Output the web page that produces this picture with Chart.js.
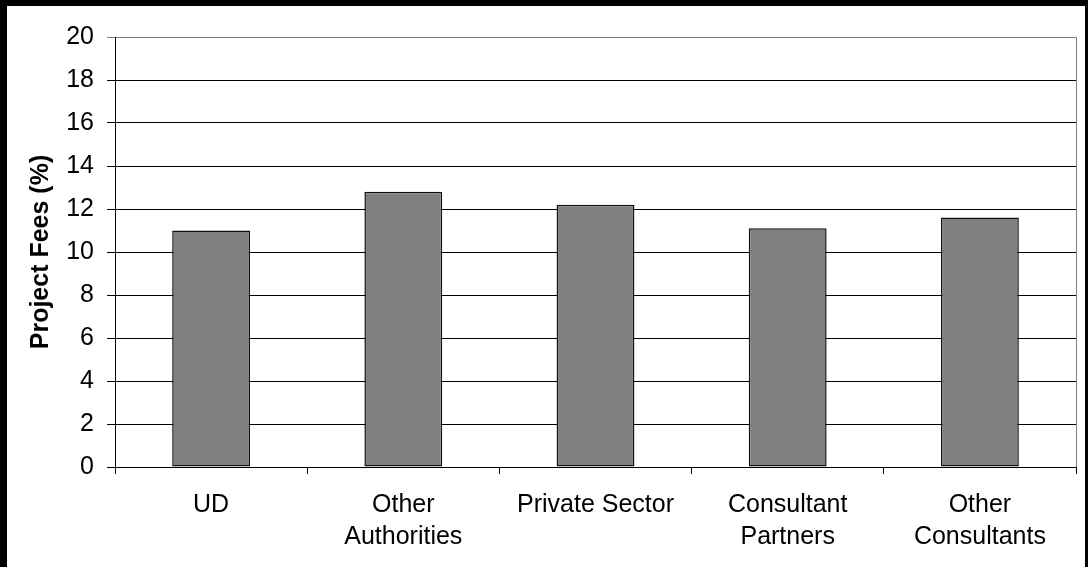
<!DOCTYPE html>
<html>
<head>
<meta charset="utf-8">
<script src="https://cdn.jsdelivr.net/npm/chart.js@4/dist/chart.umd.min.js"></script>
<style>
    html, body { margin: 0; padding: 0; background: #000; }
    .c-fees-wrap { position: absolute; left: 7px; top: 6px; width: 1078px; height: 561px; background: #fff; }
</style>
</head>
<body>
<div class="c-fees-wrap"><canvas id="fees-chart" width="1078" height="561"></canvas></div>
<script>
const categories = ['UD', ['Other', 'Authorities'], 'Private Sector', ['Consultant', 'Partners'], ['Other', 'Consultants']];
const feeValues = [11.0, 12.8, 12.2, 11.1, 11.6];
const yMin = 0;
const yMax = 20;
const yStep = 2;

const fontFamily = '"Liberation Sans", Arial, sans-serif';

// grey frame on the right side of the plot area, like the excel original
const plotFrame = {
    id: 'plotFrame',
    afterDraw: (chart) => {
        const { ctx, chartArea } = chart;
        ctx.save();
        ctx.strokeStyle = '#808080';
        ctx.lineWidth = 1;
        ctx.beginPath();
        ctx.moveTo(chartArea.right + 0.5, chartArea.top);
        ctx.lineTo(chartArea.right + 0.5, chartArea.bottom);
        ctx.stroke();
        ctx.restore();
    }
};

const chartContext = document.getElementById('fees-chart').getContext('2d');

new Chart(chartContext, {
    type: 'bar',
    data: {
        labels: categories,
        datasets: [{
            data: feeValues,
            backgroundColor: '#808080',
            borderColor: '#111111',
            borderWidth: 1.5,
            borderSkipped: false,
            inflateAmount: 0,
            barPercentage: 0.405,
            categoryPercentage: 1.0
        }]
    },
    options: {
        animation: false,
        responsive: false,
        layout: {
            padding: { left: 0, right: 9, top: 31, bottom: 0 }
        },
        plugins: {
            legend: { display: false },
            tooltip: { enabled: false }
        },
        scales: {
            x: {
                offset: true,
                grid: {
                    offset: true,
                    drawOnChartArea: false,
                    drawTicks: true,
                    tickLength: 7,
                    color: '#000000'
                },
                border: { color: '#000000', width: 1 },
                ticks: {
                    color: '#000000',
                    padding: 15,
                    maxRotation: 0,
                    autoSkip: false,
                    font: { family: fontFamily, size: 25, lineHeight: 1.28 }
                },
                afterFit: (scale) => { scale.height = 100; }
            },
            y: {
                min: yMin,
                max: yMax,
                grid: {
                    tickLength: 8,
                    color: (ctx) => ctx.tick && ctx.tick.value === yMax ? '#808080' : '#000000'
                },
                border: { color: '#000000', width: 1 },
                ticks: {
                    stepSize: yStep,
                    color: '#000000',
                    padding: 13,
                    font: { family: fontFamily, size: 25 }
                },
                title: {
                    display: true,
                    text: 'Project Fees (%)',
                    color: '#000000',
                    padding: { top: 19, bottom: 0 },
                    font: { family: fontFamily, size: 25, weight: 'bold' }
                },
                afterFit: (scale) => { scale.width = 108; }
            }
        }
    },
    plugins: [plotFrame]
});
</script>
</body>
</html>
